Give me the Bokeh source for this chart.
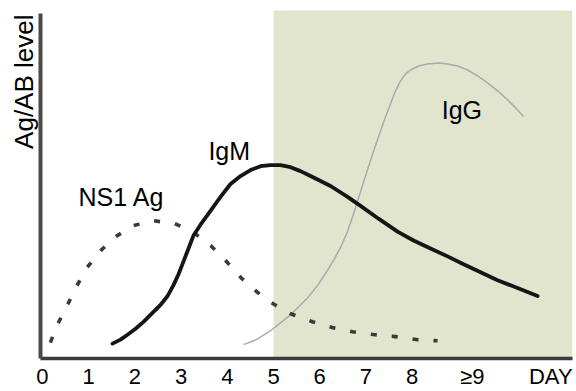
from bokeh.plotting import figure
from bokeh.models import Range1d, FixedTicker, BoxAnnotation, Label, Title
from bokeh.embed import file_html
from bokeh.resources import INLINE

# ---- data ----
x_ticks = [0, 1, 2, 3, 4, 5, 6, 7, 8, 9.3, 11]
x_labels = ["0", "1", "2", "3", "4", "5", "6", "7", "8", "\u22659", "DAY"]

ns1_day = [0.17, 0.32, 0.54, 0.74, 0.97, 1.26, 1.58, 1.97, 2.40, 2.86, 3.27, 3.66,
           4.00, 4.31, 4.65, 5.00, 5.37, 5.84, 6.28, 6.71, 7.16, 7.64, 8.12, 8.55]
ns1_lvl = [4.6, 9.7, 15.4, 20.9, 26.3, 31.1, 35.1, 38.3, 39.7, 38.9, 36.3, 32.3,
           27.7, 23.1, 19.1, 15.7, 12.9, 10.6, 8.9, 7.7, 6.9, 6.3, 5.4, 5.1]

igm_day = [1.515, 1.688, 1.840, 2.013, 2.186, 2.359, 2.554, 2.706, 2.835, 2.944,
           3.052, 3.160, 3.268, 3.420, 3.636, 3.853, 4.069, 4.286, 4.502, 4.719,
           4.935, 5.152, 5.368, 5.584, 5.801, 6.017, 6.234, 6.602, 6.883, 7.273,
           7.684, 8.030, 8.398, 8.766, 9.113, 9.481, 9.848, 10.281, 10.714]
igm_lvl = [4.29, 5.43, 6.86, 8.57, 10.57, 12.86, 15.43, 18.00, 21.14, 24.29,
           28.00, 31.71, 35.43, 38.57, 42.57, 46.57, 50.29, 52.57, 54.29, 55.43,
           55.71, 55.71, 55.14, 54.00, 52.57, 51.14, 49.71, 46.57, 44.00, 40.29,
           36.57, 34.00, 31.71, 29.43, 27.14, 24.86, 22.57, 20.29, 18.00]

igg_day = [4.351, 4.632, 4.935, 5.368, 5.736, 5.974, 6.169, 6.299, 6.450, 6.602,
           6.775, 6.948, 7.100, 7.251, 7.403, 7.532, 7.641, 7.749, 7.857, 7.965,
           8.139, 8.333, 8.571, 8.766, 8.983, 9.199, 9.416, 9.632, 9.848, 10.065,
           10.238, 10.411]
igg_lvl = [4.00, 5.43, 8.00, 12.57, 17.43, 21.43, 25.43, 28.29, 32.00, 36.57,
           43.43, 50.86, 57.14, 63.14, 68.86, 73.43, 77.14, 80.00, 82.00, 83.14,
           84.29, 84.86, 85.14, 84.86, 84.29, 83.14, 81.43, 79.43, 77.14, 74.57,
           72.29, 69.71]

shade_start = 5.0
shade_top = 100.3

series_labels = ["NS1 Ag", "IgM", "IgG"]
label_x = [0.78, 3.59, 8.64]
label_y = [46.6, 59.7, 71.7]

y_title = "Ag/AB level"

FONT = "Liberation Sans"

p = figure(width=576, height=391,
           x_range=Range1d(-0.043, 11.47), y_range=Range1d(0, 100.86),
           output_backend="svg", toolbar_location=None,
           min_border_left=40, min_border_right=4, min_border_top=8, min_border_bottom=30)
p.outline_line_color = None
p.grid.visible = False
p.background_fill_color = "white"
p.border_fill_color = "white"

shade = BoxAnnotation(left=shade_start, bottom=0, top=shade_top,
                      fill_color="#e2e5cd", fill_alpha=1.0, line_color=None, level="underlay")
p.add_layout(shade)

p.line(igg_day, igg_lvl, line_color="#a7abae", line_width=1.5, line_join="round")
p.line(ns1_day, ns1_lvl, line_color="#3a3a3a", line_width=3.6, line_dash="6 15")
p.line(igm_day, igm_lvl, line_color="#151515", line_width=3.8, line_join="round", line_cap="round")

for t, lx, ly in zip(series_labels, label_x, label_y):
    p.add_layout(Label(x=lx, y=ly, text=t, text_font=FONT, text_font_size="25px",
                       text_color="black", text_align="left", text_baseline="alphabetic"))

p.add_layout(Title(text=y_title, align="right", offset=6, standoff=4,
                   text_font=FONT, text_font_size="26px", text_font_style="normal",
                   text_color="black"), "left")

# x axis
xa = p.xaxis[0]
xa.ticker = FixedTicker(ticks=x_ticks)
xa.major_label_overrides = {t: l for t, l in zip(x_ticks, x_labels)}
xa.major_tick_out = 0
xa.major_tick_in = 0
xa.minor_tick_out = 0
xa.minor_tick_in = 0
xa.axis_line_width = 3.5
xa.axis_line_color = "#3a3a3a"
xa.major_label_text_font = FONT
xa.major_label_text_font_size = "22px"
xa.major_label_text_color = "black"
xa.major_label_standoff = 5

# y axis
ya = p.yaxis[0]
ya.ticker = FixedTicker(ticks=[])
ya.major_tick_out = 0
ya.major_tick_in = 0
ya.minor_tick_out = 0
ya.minor_tick_in = 0
ya.major_label_standoff = 0
ya.bounds = (0, 99.4)
ya.axis_line_width = 4
ya.axis_line_color = "#4a4a4a"

open("out.html", "w").write(file_html(p, INLINE))
